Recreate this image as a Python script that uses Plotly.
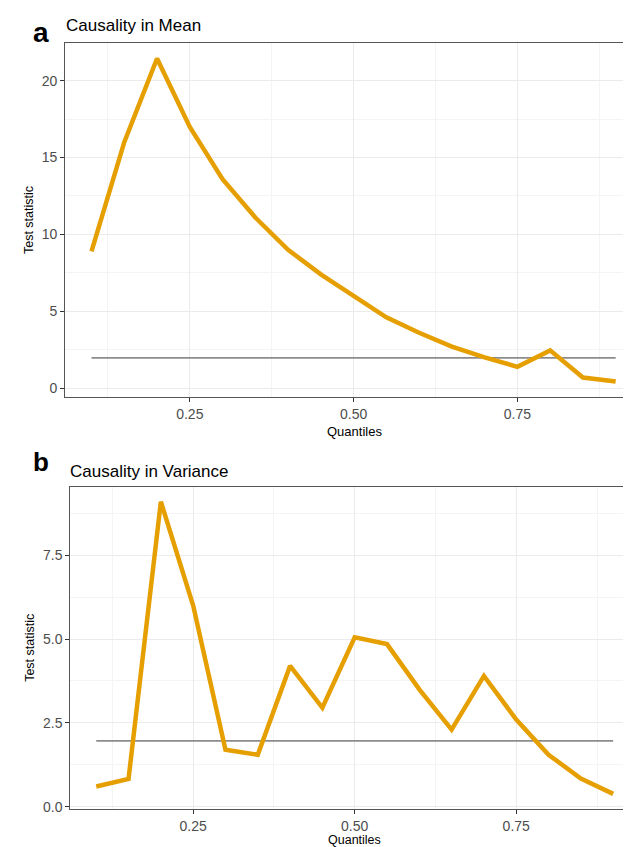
import plotly.graph_objects as go

# ---- data ----
quantiles = [0.10, 0.15, 0.20, 0.25, 0.30, 0.35, 0.40, 0.45, 0.50,
             0.55, 0.60, 0.65, 0.70, 0.75, 0.80, 0.85, 0.90]
mean_stat = [8.9, 16.0, 21.45, 17.0, 13.6, 11.1, 9.0, 7.4, 6.0,
             4.6, 3.6, 2.7, 2.0, 1.38, 2.45, 0.68, 0.42]
var_stat = [0.6, 0.83, 9.1, 6.0, 1.7, 1.55, 4.2, 2.95, 5.05,
            4.85, 3.5, 2.3, 3.9, 2.6, 1.55, 0.84, 0.38]
critical_x = [0.10, 0.90]
critical_value = 1.96

panel_titles = ["Causality in Mean", "Causality in Variance"]
panel_letters = ["a", "b"]
x_title = "Quantiles"
y_title = "Test statistic"

W, H = 631, 847
ORANGE = "#E69F00"
GREY_LINE = "#8C8C8C"
FONT = "Liberation Sans, Arial, sans-serif"

def px_x(v):
    return v / W

def px_y(v):
    return 1 - v / H

fig = go.Figure()

# panel a
fig.add_trace(go.Scatter(x=critical_x, y=[critical_value] * len(critical_x), mode="lines",
                         line=dict(color=GREY_LINE, width=1.8), xaxis="x", yaxis="y",
                         showlegend=False, hoverinfo="skip"))
fig.add_trace(go.Scatter(x=quantiles, y=mean_stat, mode="lines",
                         line=dict(color=ORANGE, width=4.5), xaxis="x", yaxis="y",
                         showlegend=False))
# panel b
fig.add_trace(go.Scatter(x=critical_x, y=[critical_value] * len(critical_x), mode="lines",
                         line=dict(color=GREY_LINE, width=1.8), xaxis="x2", yaxis="y2",
                         showlegend=False, hoverinfo="skip"))
fig.add_trace(go.Scatter(x=quantiles, y=var_stat, mode="lines",
                         line=dict(color=ORANGE, width=4.5), xaxis="x2", yaxis="y2",
                         showlegend=False))

axis_common = dict(
    showline=True, linecolor="#555555", linewidth=1.2,
    ticks="outside", ticklen=4, tickcolor="#333333", tickwidth=1,
    showgrid=True, gridcolor="#EBEBEB", gridwidth=1,
    zeroline=False,
    tickfont=dict(family=FONT, size=14, color="#4D4D4D"),
)

def xaxis_cfg(domain, rng, anchor):
    d = dict(axis_common)
    d.update(domain=domain, range=rng, anchor=anchor, tick0=0, dtick=0.25,
             tickformat=".2f", mirror=True,
             minor=dict(dtick=0.125, showgrid=True, gridcolor="#F4F4F4", gridwidth=1, ticklen=0))
    return d

def yaxis_cfg(domain, rng, anchor, dtick, minor_dtick, fmt):
    d = dict(axis_common)
    d.update(domain=domain, range=rng, anchor=anchor, tick0=0, dtick=dtick,
             tickformat=fmt, mirror=False,
             minor=dict(dtick=minor_dtick, showgrid=True, gridcolor="#F4F4F4", gridwidth=1, ticklen=0))
    return d

# pixel geometry
a_left, a_top, a_bot = 57.3, 35.7, 392.0
b_left, b_top, b_bot = 62.4, 482.7, 806.7

fig.update_layout(
    width=W, height=H,
    margin=dict(l=0, r=0, t=0, b=0),
    paper_bgcolor="white", plot_bgcolor="white",
    font=dict(family=FONT, color="black"),
    xaxis=xaxis_cfg([px_x(a_left), 1.0], [0.06, 0.9356], "y"),
    yaxis=yaxis_cfg([px_y(a_bot), px_y(a_top)], [-0.6, 22.43], "x", 5, 2.5, "d"),
    xaxis2=xaxis_cfg([px_x(b_left), 1.0], [0.06, 0.94], "y2"),
    yaxis2=yaxis_cfg([px_y(b_bot), px_y(b_top)], [-0.07, 9.53], "x2", 2.5, 1.25, ".1f"),
)

ann = []
# panel letters
ann.append(dict(text="<b>%s</b>" % panel_letters[0], x=px_x(23), y=px_y(25), xref="paper", yref="paper",
                xanchor="left", yanchor="middle", showarrow=False,
                font=dict(family=FONT, size=28, color="black")))
ann.append(dict(text="<b>%s</b>" % panel_letters[1], x=px_x(23), y=px_y(457), xref="paper", yref="paper",
                xanchor="left", yanchor="middle", showarrow=False,
                font=dict(family=FONT, size=26, color="black")))
# panel titles
ann.append(dict(text=panel_titles[0], x=px_x(56), y=px_y(18), xref="paper", yref="paper",
                xanchor="left", yanchor="middle", showarrow=False,
                font=dict(family=FONT, size=17, color="black")))
ann.append(dict(text=panel_titles[1], x=px_x(60), y=px_y(467), xref="paper", yref="paper",
                xanchor="left", yanchor="middle", showarrow=False,
                font=dict(family=FONT, size=17, color="black")))
# axis titles
for yc in [(a_top + a_bot) / 2, (b_top + b_bot) / 2]:
    ann.append(dict(text=y_title, x=px_x(21.7), y=px_y(yc), xref="paper", yref="paper",
                    xanchor="center", yanchor="middle", showarrow=False, textangle=-90,
                    font=dict(family=FONT, size=12.5, color="black")))
ann.append(dict(text=x_title, x=px_x(346), y=px_y(426.5), xref="paper", yref="paper",
                xanchor="center", yanchor="middle", showarrow=False,
                font=dict(family=FONT, size=13, color="black")))
ann.append(dict(text=x_title, x=px_x(346), y=0, xref="paper", yref="paper",
                xanchor="center", yanchor="bottom", showarrow=False,
                font=dict(family=FONT, size=12.5, color="black")))
fig.update_layout(annotations=ann)

fig.write_html("out.html", config={"displayModeBar": False})
